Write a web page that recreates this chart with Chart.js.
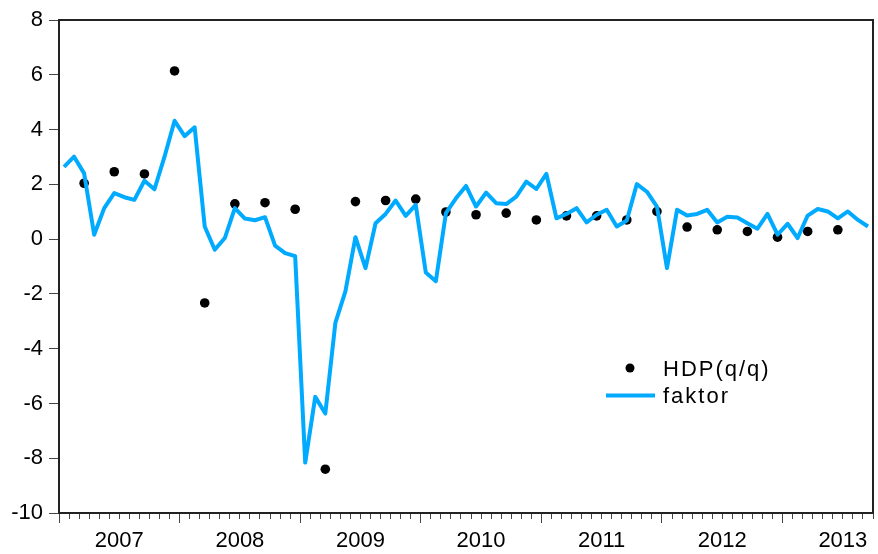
<!DOCTYPE html>
<html lang="sk">
<head>
    <meta charset="UTF-8">
    <title>HDP a faktor</title>
    <script src="https://cdn.jsdelivr.net/npm/chart.js"></script>
    <style>
        body {
            margin: 0;
            background: #fff;
        }
        .chart-container {
            position: relative;
            width: 878px;
            height: 554px;
        }
    </style>
</head>
<body>

    <div class="chart-container">
        <canvas id="hdpChart"></canvas>
    </div>

    <script>
        // monthly series, Jan 2007 .. Sep 2013
        const years = ['2007', '2008', '2009', '2010', '2011', '2012', '2013'];
        const faktor = [
            2.64, 3.01, 2.40, 0.16, 1.13, 1.68, 1.53, 1.43, 2.13, 1.82, 3.01, 4.32,
            3.76, 4.08, 0.46, -0.39, 0.04, 1.13, 0.75, 0.69, 0.80, -0.24, -0.51, -0.62,
            -8.16, -5.76, -6.37, -3.06, -1.91, 0.07, -1.06, 0.58, 0.92, 1.41, 0.85, 1.25,
            -1.22, -1.54, 0.95, 1.49, 1.94, 1.19, 1.70, 1.31, 1.28, 1.55, 2.10, 1.83,
            2.38, 0.76, 0.92, 1.13, 0.61, 0.89, 1.07, 0.46, 0.68, 2.01, 1.73, 1.19,
            -1.06, 1.07, 0.86, 0.92, 1.07, 0.61, 0.82, 0.79, 0.58, 0.38, 0.92, 0.16,
            0.56, 0.04, 0.86, 1.10, 1.01, 0.76, 1.01, 0.70, 0.46
        ];
        // quarterly GDP growth, 2007Q1 .. 2013Q2 (shown at last month of quarter)
        const hdp = [
            2.04, 2.46, 2.38, 6.14,
            -2.33, 1.29, 1.33, 1.09,
            -8.40, 1.37, 1.41, 1.46,
            0.99, 0.89, 0.95, 0.70,
            0.85, 0.85, 0.70, 1.01,
            0.44, 0.34, 0.28, 0.07,
            0.28, 0.34
        ];

        const lineColor = '#00AAFF';
        const axisColor = '#222';
        const fontFamily = '"Liberation Sans", Arial, sans-serif';

        const faktorPoints = faktor.map((v, i) => ({ x: i + 0.5, y: v }));
        const hdpPoints = hdp.map((v, q) => ({ x: q * 3 + 2 + 0.5, y: v }));

        const legendPlugin = {
            id: 'insideLegend',
            afterDraw(chart) {
                const ctx = chart.ctx;
                const ca = chart.chartArea;
                const ds = chart.data.datasets;
                const x0 = ca.left + 547;
                const y0 = ca.top + 348;
                ctx.save();
                ctx.font = '22px ' + fontFamily;
                ctx.letterSpacing = '2px';
                ctx.fillStyle = '#000';
                ctx.textBaseline = 'alphabetic';

                ctx.beginPath();
                ctx.arc(x0 + 24, y0, 4.5, 0, Math.PI * 2);
                ctx.fill();
                ctx.fillText(ds[1].label, x0 + 57, y0 + 8);

                ctx.strokeStyle = ds[0].borderColor;
                ctx.lineWidth = 4;
                ctx.beginPath();
                ctx.moveTo(x0, y0 + 27.5);
                ctx.lineTo(x0 + 49, y0 + 27.5);
                ctx.stroke();
                ctx.fillText(ds[0].label, x0 + 57, y0 + 35);
                ctx.restore();
            }
        };

        const ctx1 = document.getElementById('hdpChart').getContext('2d');
        const hdpChart = new Chart(ctx1, {
            type: 'line',
            data: {
                datasets: [
                    {
                        label: 'faktor',
                        data: faktorPoints,
                        borderColor: lineColor,
                        borderWidth: 4,
                        borderJoinStyle: 'round',
                        pointRadius: 0,
                        tension: 0,
                        fill: false
                    },
                    {
                        label: 'HDP(q/q)',
                        data: hdpPoints,
                        showLine: false,
                        pointRadius: 4.8,
                        pointBorderWidth: 0,
                        pointBackgroundColor: '#000',
                        borderColor: '#000'
                    }
                ]
            },
            options: {
                responsive: true,
                maintainAspectRatio: false,
                animation: false,
                layout: { padding: { top: 20, right: 2, left: 0, bottom: 0 } },
                plugins: {
                    legend: { display: false },
                    tooltip: { enabled: false }
                },
                scales: {
                    x: {
                        type: 'linear',
                        position: 'bottom',
                        min: 0,
                        max: faktor.length,
                        afterBuildTicks: (scale) => {
                            scale.ticks = Array.from({ length: faktor.length + 1 }, (_, v) => ({ value: v }));
                        },
                        afterFit: (scale) => { scale.height = 41; },
                        ticks: {
                            autoSkip: false,
                            maxRotation: 0,
                            padding: 5,
                            color: '#000',
                            font: { family: fontFamily, size: 22 },
                            callback: (value) => (value % 12 === 6 ? years[(value - 6) / 12] : '')
                        },
                        grid: {
                            drawOnChartArea: false,
                            tickLength: 10,
                            tickColor: '#444',
                            tickWidth: 1,
                            tickBorderDash: (c) => (c.tick && c.tick.value % 12 === 0 ? [] : [5, 40])
                        },
                        border: { display: true, color: axisColor, width: 2 }
                    },
                    y: {
                        position: 'left',
                        min: -10,
                        max: 8,
                        afterFit: (scale) => { scale.width = 59; },
                        ticks: {
                            stepSize: 2,
                            padding: 6,
                            color: '#000',
                            font: { family: fontFamily, size: 22 }
                        },
                        grid: {
                            drawOnChartArea: false,
                            tickLength: 10,
                            tickColor: '#444',
                            tickWidth: 1
                        },
                        border: { display: true, color: axisColor, width: 2 }
                    },
                    xTop: {
                        type: 'linear',
                        position: 'top',
                        afterFit: (scale) => { scale.height = 0; },
                        ticks: { display: false },
                        grid: { drawOnChartArea: false, drawTicks: false },
                        border: { display: true, color: axisColor, width: 2 }
                    },
                    yRight: {
                        type: 'linear',
                        position: 'right',
                        afterFit: (scale) => { scale.width = 0; },
                        ticks: { display: false },
                        grid: { drawOnChartArea: false, drawTicks: false },
                        border: { display: true, color: axisColor, width: 2 }
                    }
                }
            },
            plugins: [legendPlugin]
        });
    </script>

</body>
</html>
